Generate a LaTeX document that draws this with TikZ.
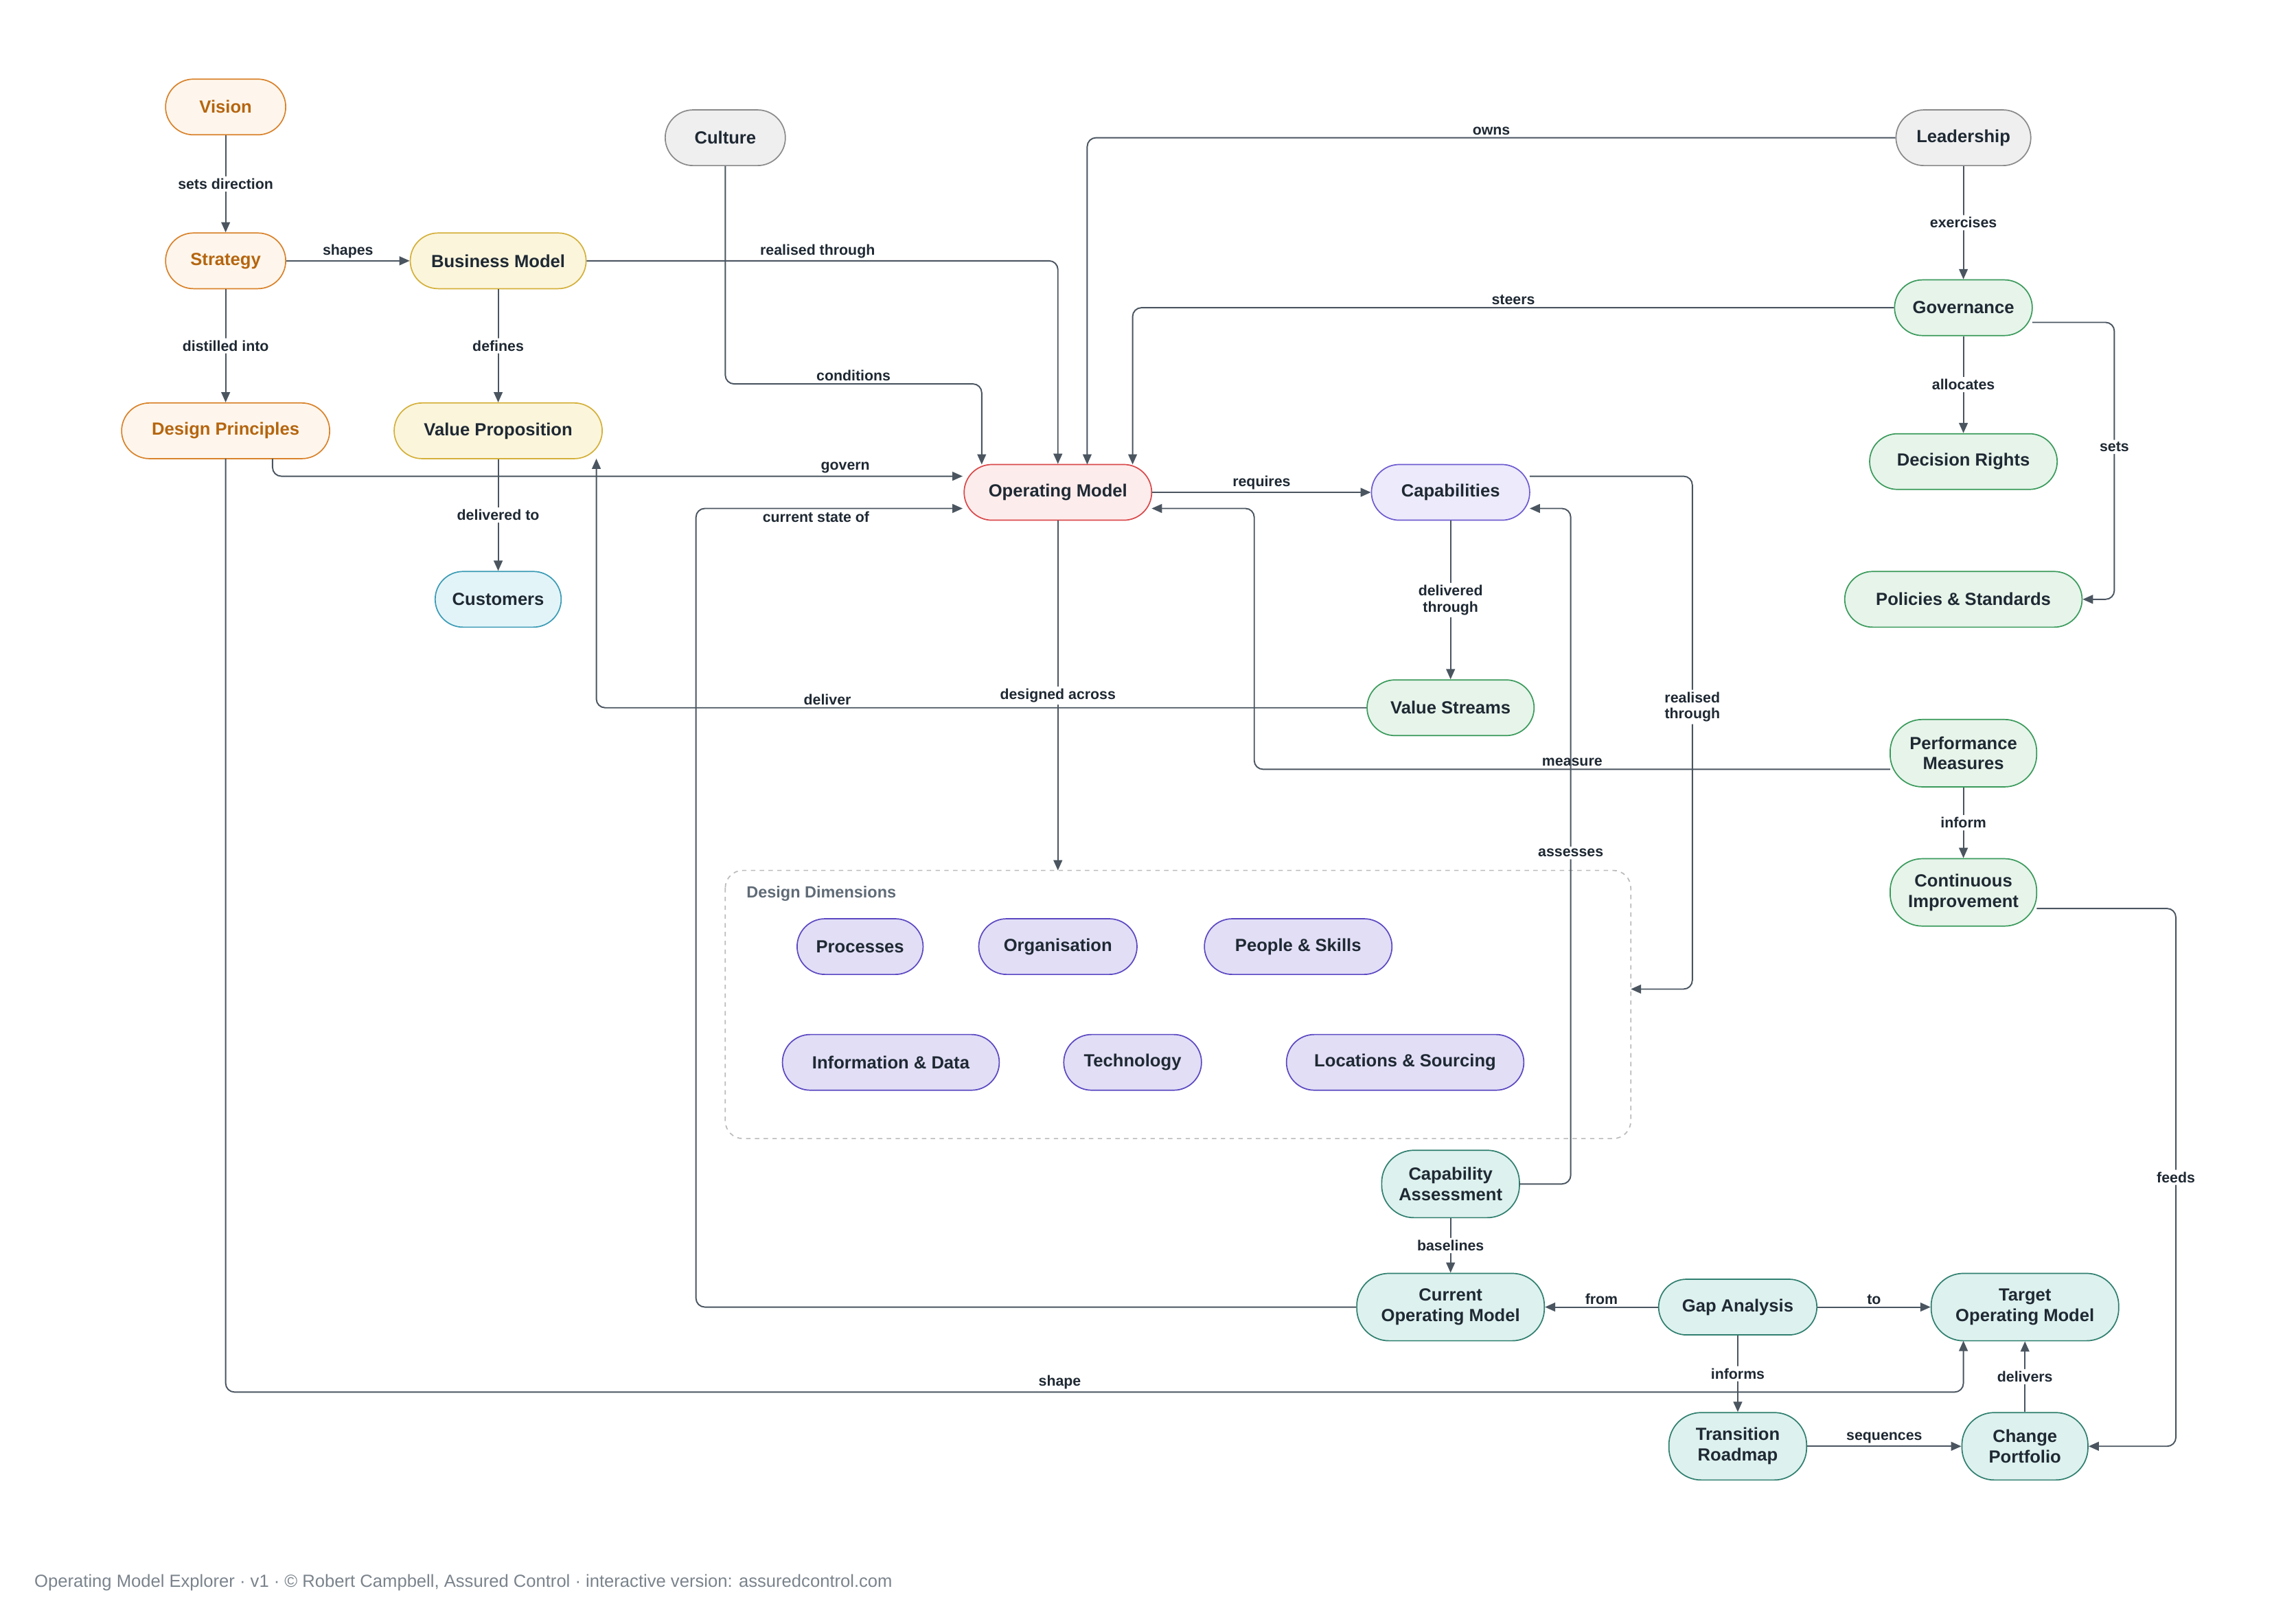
\documentclass[tikz,border=0pt]{standalone}
\usepackage{fontspec}
\setmainfont{Liberation Sans}
\usetikzlibrary{arrows.meta}
\definecolor{ink}{HTML}{4A5560}
\definecolor{txt}{HTML}{1F2933}
\definecolor{orfill}{HTML}{FEF6EC}\definecolor{ordraw}{HTML}{D9822B}\definecolor{ortext}{HTML}{B5650F}
\definecolor{yefill}{HTML}{FBF5DC}\definecolor{yedraw}{HTML}{D4B03A}
\definecolor{cyfill}{HTML}{E3F4F8}\definecolor{cydraw}{HTML}{3A9BB5}
\definecolor{grfill}{HTML}{EFEFEF}\definecolor{grdraw}{HTML}{8A8A8A}
\definecolor{gnfill}{HTML}{E6F4EA}\definecolor{gndraw}{HTML}{3A9A5B}
\definecolor{rdfill}{HTML}{FDECEC}\definecolor{rddraw}{HTML}{D9484A}
\definecolor{pufill}{HTML}{ECEAFB}\definecolor{pudraw}{HTML}{6E5BD0}
\definecolor{dmfill}{HTML}{E1DEF6}\definecolor{dmdraw}{HTML}{5B48C2}
\definecolor{tlfill}{HTML}{DDF1EE}\definecolor{tldraw}{HTML}{2F7F6F}
\definecolor{dash}{HTML}{BBBBBB}\definecolor{title}{HTML}{5F6B76}\definecolor{foot}{HTML}{7A838C}
\tikzset{
  box/.style={draw,line width=0.8pt,rounded corners=19pt,minimum height=38pt,align=center,
    text=txt,font=\fontsize{12}{14}\selectfont\bfseries,inner sep=2pt},
  tall/.style={minimum height=46pt,rounded corners=22pt},
  orange/.style={box,fill=orfill,draw=ordraw,text=ortext},
  yellow/.style={box,fill=yefill,draw=yedraw},
  cyan/.style={box,fill=cyfill,draw=cydraw},
  grey/.style={box,fill=grfill,draw=grdraw},
  green/.style={box,fill=gnfill,draw=gndraw},
  red/.style={box,fill=rdfill,draw=rddraw},
  purple/.style={box,fill=pufill,draw=pudraw},
  dim/.style={box,fill=dmfill,draw=dmdraw},
  teal/.style={box,fill=tlfill,draw=tldraw},
  link/.style={draw=ink,line width=0.9pt,rounded corners=6pt,-{Triangle[length=7pt,width=6pt]}},
  lbl/.style={fill=white,inner sep=1.5pt,text=txt,align=center,font=\fontsize{10}{11}\selectfont\bfseries},
  lbla/.style={inner sep=1.5pt,text=txt,align=center,font=\fontsize{10}{11}\selectfont\bfseries}
}
\begin{document}
\begin{tikzpicture}[x=1pt,y=-1pt]
  \useasboundingbox (0,0) rectangle (1567,1102);
  % group box
  \draw[draw=dash,dashed,line width=0.8pt,rounded corners=12pt] (495,594) rectangle (1113,777);
  \node[anchor=west,text=title,font=\fontsize{11}{13}\selectfont\bfseries] (dimtitle) at (506,610) {Design Dimensions};
  % nodes
  \node[orange,minimum width=82pt] (vision) at (154,73) {Vision};
  \node[orange,minimum width=82pt] (strategy) at (154,178) {Strategy};
  \node[orange,minimum width=142pt] (principles) at (154,294) {Design Principles};
  \node[yellow,minimum width=120pt] (business) at (340,178) {Business Model};
  \node[yellow,minimum width=142pt] (valueprop) at (340,294) {Value Proposition};
  \node[cyan,minimum width=86pt] (customers) at (340,409) {Customers};
  \node[grey,minimum width=82pt] (culture) at (495,94) {Culture};
  \node[grey,minimum width=92pt] (leadership) at (1340,94) {Leadership};
  \node[green,minimum width=94pt] (governance) at (1340,210) {Governance};
  \node[green,minimum width=128pt] (rights) at (1340,315) {Decision Rights};
  \node[green,minimum width=162pt] (policies) at (1340,409) {Policies \& Standards};
  \node[red,minimum width=128pt] (opmodel) at (722,336) {Operating Model};
  \node[purple,minimum width=108pt] (capabilities) at (990,336) {Capabilities};
  \node[green,minimum width=114pt] (streams) at (990,483) {Value Streams};
  \node[green,tall,minimum width=100pt] (measures) at (1340,514) {Performance\\Measures};
  \node[green,tall,minimum width=100pt] (improve) at (1340,609) {Continuous\\Improvement};
  \node[dim,minimum width=86pt] (processes) at (587,646) {Processes};
  \node[dim,minimum width=108pt] (organisation) at (722,646) {Organisation};
  \node[dim,minimum width=128pt] (people) at (886,646) {People \& Skills};
  \node[dim,minimum width=148pt] (information) at (608,725) {Information \& Data};
  \node[dim,minimum width=94pt] (technology) at (773,725) {Technology};
  \node[dim,minimum width=162pt] (locations) at (959,725) {Locations \& Sourcing};
  \node[teal,tall,minimum width=94pt] (assessment) at (990,808) {Capability\\Assessment};
  \node[teal,tall,minimum width=128pt] (current) at (990,892) {Current\\Operating Model};
  \node[teal,minimum width=108pt] (gap) at (1186,892) {Gap Analysis};
  \node[teal,tall,minimum width=128pt] (target) at (1382,892) {Target\\Operating Model};
  \node[teal,tall,minimum width=94pt] (roadmap) at (1186,987) {Transition\\Roadmap};
  \node[teal,tall,minimum width=86pt] (portfolio) at (1382,987) {Change\\Portfolio};
  \coordinate (dimtop) at (722,594);
  \coordinate (dimeast) at (1113,675);
  % connectors
  \draw[link] (vision) -- node[lbl] {sets direction} (strategy);
  \draw[link] (strategy) -- node[lbl] {distilled into} (principles);
  \draw[link] (strategy) -- node[lbla,above] {shapes} (business);
  \draw[link] (business) -- node[lbl] {defines} (valueprop);
  \draw[link] (valueprop) -- node[lbl] {delivered to} (customers);
  \draw[link] (business.east) -- node[lbla,above,pos=0.49] {realised through} (722,178) -- (opmodel.north);
  \draw[link] (culture.south) -- (495,262) -- node[lbla,above] {conditions} (670,262) -- (670,317);
  \draw[link] (leadership.west) -- node[lbla,above] {owns} (742,94) -- (742,317);
  \draw[link] (governance.west) -- node[lbla,above] {steers} (773,210) -- (773,317);
  \draw[link] (leadership) -- node[lbl] {exercises} (governance);
  \draw[link] (governance) -- node[lbl] {allocates} (rights);
  \draw[link] (1387,220) -- (1443,220) -- node[lbl,pos=0.45] {sets} (1443,409) -- (policies.east);
  \draw[link] (186,313) -- (186,325) -- node[lbla,above,pos=0.83] {govern} (657,325);
  \draw[link] (opmodel) -- node[lbla,above] {requires} (capabilities);
  \draw[link] (capabilities) -- node[lbl] {delivered\\through} (streams);
  \draw[link] (streams.west) -- node[lbla,above,pos=0.7] {deliver} (407,483) -- (407,313);
  \draw[link] (opmodel) -- node[lbl] {designed across} (dimtop);
  \draw[link] (1044,325) -- (1155,325) -- node[lbl,pos=0.45] {realised\\through} (1155,675) -- (dimeast);
  \draw[link] (1290,525) -- node[lbla,above] {measure} (856,525) -- (856,347) -- (786,347);
  \draw[link] (measures) -- node[lbl] {inform} (improve);
  \draw[link] (1390,620) -- (1485,620) -- node[lbl] {feeds} (1485,987) -- (portfolio.east);
  \draw[link] (1037,808) -- (1072,808) -- node[lbl,pos=0.49] {assesses} (1072,347) -- (1044,347);
  \draw[link] (assessment) -- node[lbl] {baselines} (current);
  \draw[link] (current.west) -- (475,892) -- (475,347) -- node[lbla,below,pos=0.45] {current state of} (657,347);
  \draw[link] (gap) -- node[lbla,above] {from} (current);
  \draw[link] (gap) -- node[lbla,above] {to} (target);
  \draw[link] (gap) -- node[lbl] {informs} (roadmap);
  \draw[link] (roadmap) -- node[lbla,above] {sequences} (portfolio);
  \draw[link] (portfolio) -- node[lbl] {delivers} (target);
  \draw[link] (154,313) -- (154,950) -- node[lbla,above,pos=0.48] {shape} (1340,950) -- (1340,915);
  % footer
  \node[anchor=west,text=foot,font=\fontsize{12}{14}\selectfont] (footer) at (20,1080) {Operating Model Explorer · v1 · © Robert Campbell, Assured Control · interactive version: assuredcontrol.com};
\end{tikzpicture}
\end{document}
